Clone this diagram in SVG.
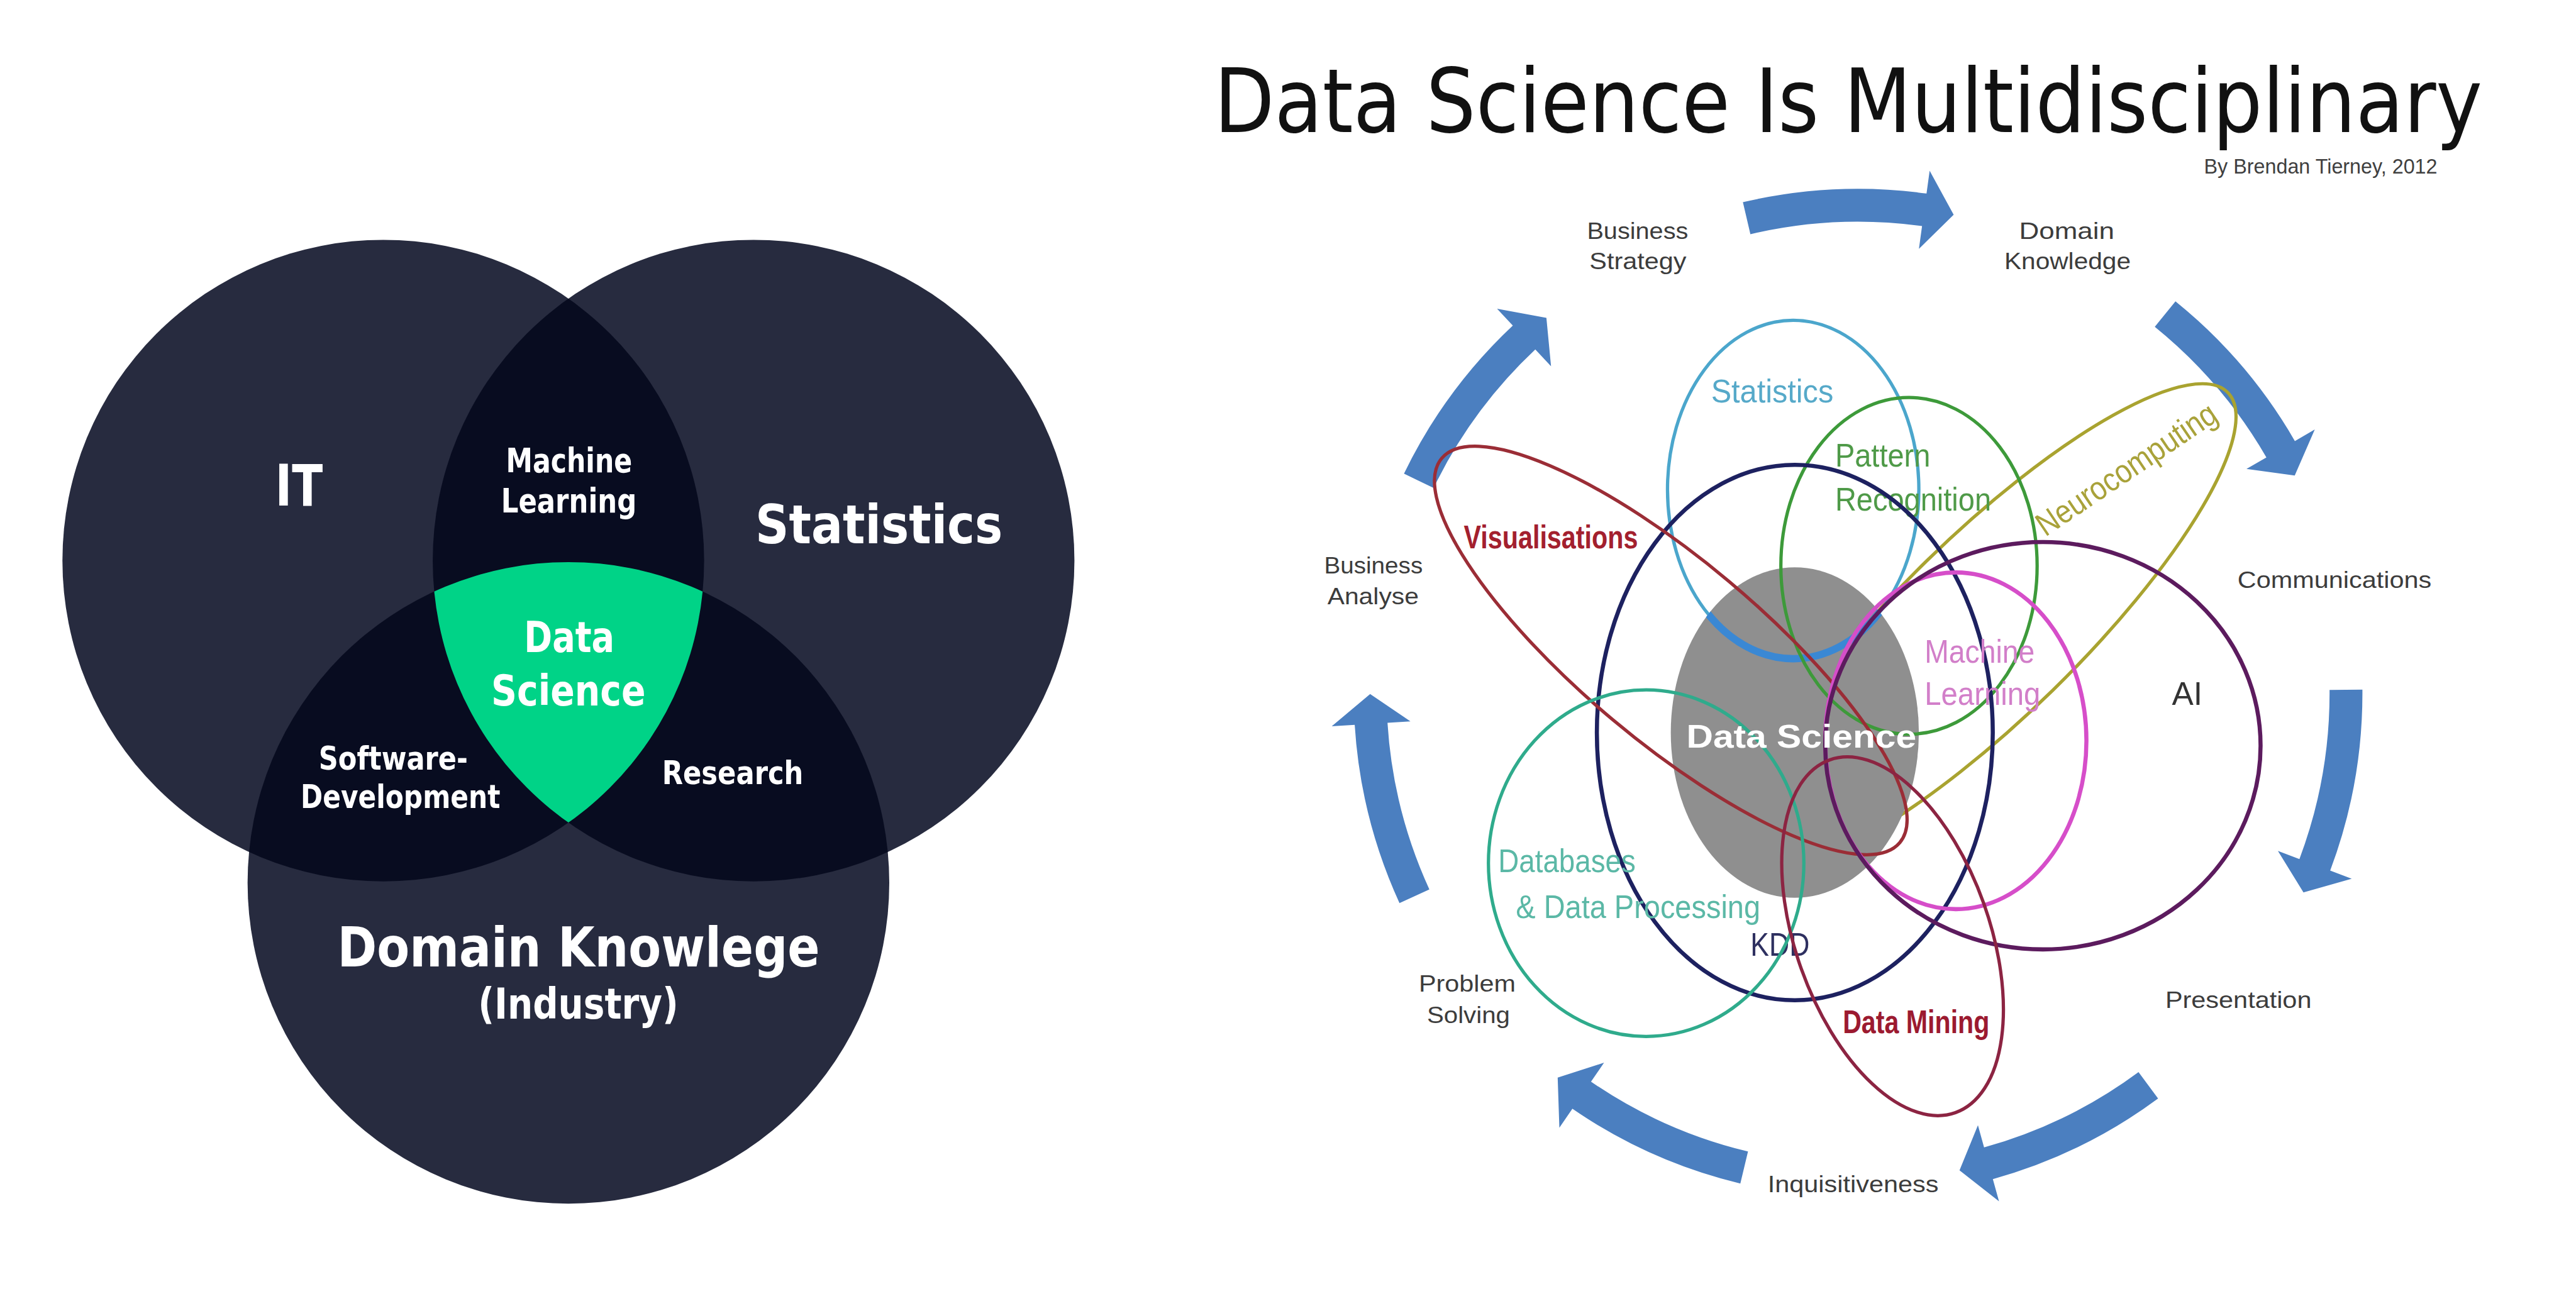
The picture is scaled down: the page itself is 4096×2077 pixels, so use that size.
<svg xmlns="http://www.w3.org/2000/svg" xmlns:xlink="http://www.w3.org/1999/xlink" width="4096" height="2077" viewBox="0 0 4096 2077">
<style>
.vc{fill:#272b3f}
.vd{fill:#080c20}
.vg{fill:#00d387}
.vt{font-family:'DejaVu Sans Condensed','DejaVu Sans',sans-serif;font-stretch:condensed;font-weight:bold;fill:#ffffff}
.ol{font-family:'Liberation Sans',Arial,sans-serif;font-size:14px;fill:#3c3c3c}
.il{font-family:'Liberation Sans',Arial,sans-serif;font-size:20px}
.el{fill:none}
.arw{fill:#4b7fc0}
</style>
<defs>
<clipPath id="clipIT"><circle cx="233.3" cy="341.3" r="195.3"/></clipPath>
<clipPath id="clipST"><circle cx="458.7" cy="341.3" r="195.3"/></clipPath>
<clipPath id="clipGray"><ellipse cx="1092.5" cy="446" rx="75.5" ry="100.6"/></clipPath>
<path id="arr" d="M307,0 A307,307 0 0 1 286.61,110.02 L299.68,115.04 L270.26,123.16 L254.87,97.83 L267.94,102.85 A287,287 0 0 0 287,0 Z"/>
</defs>
<rect width="4096" height="2077" fill="#ffffff"/>
<g transform="scale(2.612245)">
<!-- Left Venn -->
<g id="venn">
<g id="circle-it"><circle class="vc" cx="233.3" cy="341.3" r="195.3"/></g>
<g id="circle-statistics"><circle class="vc" cx="458.7" cy="341.3" r="195.3"/></g>
<g id="circle-domain"><circle class="vc" cx="346" cy="537.5" r="195.3"/></g>
<g id="lens-ml" clip-path="url(#clipIT)"><circle class="vd" cx="458.7" cy="341.3" r="195.3"/></g>
<g id="lens-sw" clip-path="url(#clipIT)"><circle class="vd" cx="346" cy="537.5" r="195.3"/></g>
<g id="lens-research" clip-path="url(#clipST)"><circle class="vd" cx="346" cy="537.5" r="195.3"/></g>
<g id="center-ds" clip-path="url(#clipST)"><g clip-path="url(#clipIT)"><circle class="vg" cx="346" cy="537.5" r="195.3"/></g></g>
<text class="vt" x="167.5" y="307.6" font-size="35" textLength="29" lengthAdjust="spacingAndGlyphs">IT</text>
<text class="vt" x="459.8" y="330.6" font-size="33" textLength="150.5" lengthAdjust="spacingAndGlyphs">Statistics</text>
<text class="vt" x="308" y="287.4" font-size="20.5" textLength="76.8" lengthAdjust="spacingAndGlyphs">Machine</text>
<text class="vt" x="305" y="312" font-size="20.5" textLength="82.5" lengthAdjust="spacingAndGlyphs">Learning</text>
<text class="vt" x="319" y="396.8" font-size="26" textLength="55" lengthAdjust="spacingAndGlyphs">Data</text>
<text class="vt" x="299" y="429.5" font-size="26" textLength="94" lengthAdjust="spacingAndGlyphs">Science</text>
<text class="vt" x="194" y="468.5" font-size="20" textLength="90.8" lengthAdjust="spacingAndGlyphs">Software-</text>
<text class="vt" x="183" y="492" font-size="20" textLength="121.5" lengthAdjust="spacingAndGlyphs">Development</text>
<text class="vt" x="403" y="477.5" font-size="20" textLength="86" lengthAdjust="spacingAndGlyphs">Research</text>
<text class="vt" x="205.4" y="588.4" font-size="33.5" textLength="293.6" lengthAdjust="spacingAndGlyphs">Domain Knowlege</text>
<text class="vt" x="291" y="620" font-size="26" textLength="122" lengthAdjust="spacingAndGlyphs">(Industry)</text>
</g>

<!-- Right diagram -->
<g id="title">
<text x="739" y="80.5" font-family="'DejaVu Sans Condensed','DejaVu Sans',sans-serif" font-size="54" fill="#111111" textLength="772" lengthAdjust="spacingAndGlyphs">Data Science Is Multidisciplinary</text>
<text x="1341.6" y="105.5" font-family="'Liberation Sans',Arial,sans-serif" font-size="12.5" fill="#404040" textLength="142" lengthAdjust="spacingAndGlyphs">By Brendan Tierney, 2012</text>
</g>

<g id="connectors">
<use href="#arr" class="arw" transform="translate(1131,422) rotate(256.8)"/>
<use href="#arr" class="arw" transform="translate(1131,422) rotate(309)"/>
<use href="#arr" class="arw" transform="translate(1131,422) rotate(359.6)"/>
<use href="#arr" class="arw" transform="translate(1131,422) rotate(53.5)"/>
<use href="#arr" class="arw" transform="translate(1131,422) rotate(103.5)"/>
<use href="#arr" class="arw" transform="translate(1131,422) rotate(155.4)"/>
<use href="#arr" class="arw" transform="translate(1131,422) rotate(205.8)"/>
</g>

<g id="outer-labels">
<g id="lbl-business-strategy">
<text class="ol" x="966" y="145.3" textLength="61.6" lengthAdjust="spacingAndGlyphs">Business</text>
<text class="ol" x="967.5" y="164" textLength="59" lengthAdjust="spacingAndGlyphs">Strategy</text>
</g>
<g id="lbl-domain-knowledge">
<text class="ol" x="1229" y="145.3" textLength="58" lengthAdjust="spacingAndGlyphs">Domain</text>
<text class="ol" x="1220" y="164" textLength="77" lengthAdjust="spacingAndGlyphs">Knowledge</text>
</g>
<g id="lbl-communications"><text class="ol" x="1362" y="358" textLength="118" lengthAdjust="spacingAndGlyphs">Communications</text></g>
<g id="lbl-business-analyse">
<text class="ol" x="806" y="349" textLength="60" lengthAdjust="spacingAndGlyphs">Business</text>
<text class="ol" x="808" y="368" textLength="55.6" lengthAdjust="spacingAndGlyphs">Analyse</text>
</g>
<g id="lbl-presentation"><text class="ol" x="1318" y="613.6" textLength="89" lengthAdjust="spacingAndGlyphs">Presentation</text></g>
<g id="lbl-problem-solving">
<text class="ol" x="863.6" y="603.8" textLength="59" lengthAdjust="spacingAndGlyphs">Problem</text>
<text class="ol" x="868.6" y="622.7" textLength="50.5" lengthAdjust="spacingAndGlyphs">Solving</text>
</g>
<g id="lbl-inquisitiveness"><text class="ol" x="1076" y="726" textLength="104" lengthAdjust="spacingAndGlyphs">Inquisitiveness</text></g>
</g>

<g id="e-neuro">
<ellipse class="el" cx="1211" cy="381" rx="203" ry="55" transform="rotate(-44.4 1211 381)" stroke="#a9a330" stroke-width="2"/>
<text class="il" x="1245" y="327" font-size="17" fill="#a9a23a" textLength="128" lengthAdjust="spacingAndGlyphs" transform="rotate(-34 1245 327)">Neurocomputing</text>
</g>

<g id="ds-core"><ellipse cx="1092.5" cy="446" rx="75.5" ry="100.6" fill="#8f8f8f"/></g>

<g id="e-statistics">
<ellipse class="el" cx="1091.5" cy="298" rx="76.5" ry="103" stroke="#4ba6cc" stroke-width="2"/>
<ellipse class="el" cx="1091.5" cy="298" rx="76.5" ry="103" stroke="#3a88d4" stroke-width="4.5" clip-path="url(#clipGray)"/>
<text class="il" x="1041.5" y="245" fill="#56a9c9" textLength="74.5" lengthAdjust="spacingAndGlyphs">Statistics</text>
</g>
<g id="e-pattern">
<ellipse class="el" cx="1162" cy="344.5" rx="78" ry="102.5" stroke="#3d9a3a" stroke-width="2"/>
<text class="il" x="1117" y="284" fill="#4f9a48" textLength="58" lengthAdjust="spacingAndGlyphs">Pattern</text>
<text class="il" x="1117" y="311" fill="#4f9a48" textLength="95" lengthAdjust="spacingAndGlyphs">Recognition</text>
</g>
<g id="e-kdd">
<ellipse class="el" cx="1092.5" cy="446" rx="120.5" ry="163" stroke="#1d2160" stroke-width="2.5"/>
<text class="il" x="1065.5" y="582" fill="#2e3060" textLength="36" lengthAdjust="spacingAndGlyphs">KDD</text>
</g>
<g id="e-visualisations">
<ellipse class="el" cx="1017" cy="396" rx="182" ry="55" transform="rotate(40 1017 396)" stroke="#9b2d36" stroke-width="2"/>
<text class="il" x="891" y="334" font-size="21" font-weight="bold" fill="#a3202e" textLength="106" lengthAdjust="spacingAndGlyphs">Visualisations</text>
</g>
<g id="e-ml">
<ellipse class="el" cx="1190.5" cy="451" rx="79.5" ry="102.5" stroke="#d64ec9" stroke-width="2.5"/>
<text class="il" x="1171.5" y="403.6" fill="#d27fc9" textLength="67" lengthAdjust="spacingAndGlyphs">Machine</text>
<text class="il" x="1171.5" y="429" fill="#d27fc9" textLength="70.5" lengthAdjust="spacingAndGlyphs">Learning</text>
</g>
<g id="e-ai">
<ellipse class="el" cx="1243.5" cy="454" rx="132.5" ry="124" stroke="#5c1b5e" stroke-width="2.5"/>
<text class="il" x="1322" y="429" fill="#333333" textLength="18.6" lengthAdjust="spacingAndGlyphs">AI</text>
</g>
<g id="e-databases">
<ellipse class="el" cx="1002" cy="525.5" rx="96" ry="105.5" stroke="#2fab8c" stroke-width="2"/>
<text class="il" x="912" y="531" fill="#5bb8a6" textLength="83.6" lengthAdjust="spacingAndGlyphs">Databases</text>
<text class="il" x="922.7" y="559" fill="#5bb8a6" textLength="148.8" lengthAdjust="spacingAndGlyphs">&amp; Data Processing</text>
</g>
<g id="e-datamining">
<ellipse class="el" cx="1152" cy="570" rx="114" ry="59" transform="rotate(70.4 1152 570)" stroke="#8c2442" stroke-width="2"/>
<text class="il" x="1121.7" y="629" font-size="21" font-weight="bold" fill="#9c1a30" textLength="89.3" lengthAdjust="spacingAndGlyphs">Data Mining</text>
</g>
<g id="ds-label"><text class="il" x="1026.5" y="455" font-size="25" font-weight="bold" fill="#ffffff" textLength="140" lengthAdjust="spacingAndGlyphs">Data Science</text></g>
</g>
</svg>
